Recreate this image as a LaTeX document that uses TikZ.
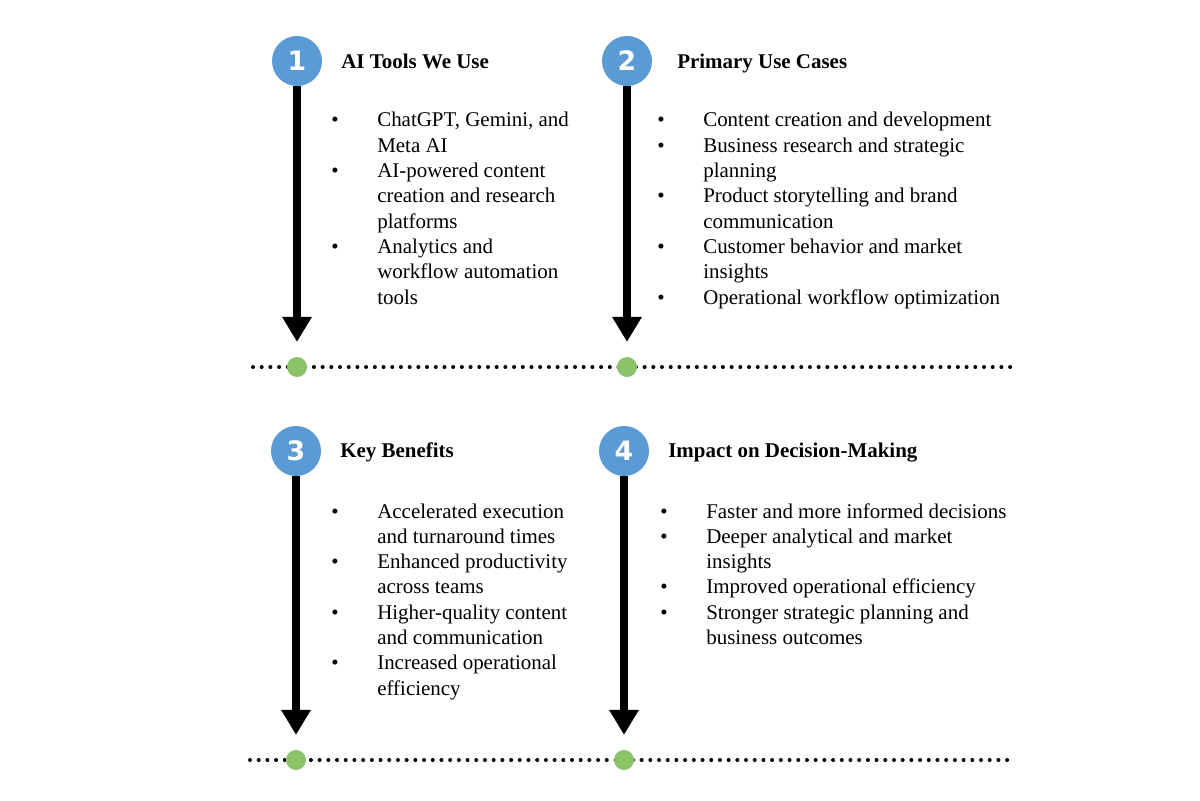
\documentclass[tikz,border=0pt]{standalone}
\usepackage{fontspec}
\setmainfont{Liberation Serif}
\newfontfamily\numfont{DejaVu Sans}
\usepackage{xcolor}
\usepackage{tikz}
\usetikzlibrary{arrows.meta,positioning}

\definecolor{numblue}{RGB}{91,155,213}
\definecolor{dotgreen}{RGB}{139,194,106}

\begin{document}
\begin{tikzpicture}[
  x=0.025cm, y=-0.025cm,
  num/.style={circle, fill=numblue, minimum size=1.25cm, inner sep=0pt,
              text=white, font=\numfont\bfseries\fontsize{19pt}{20pt}\selectfont},
  dot/.style={circle, fill=dotgreen, minimum size=0.5cm, inner sep=0pt},
  head/.style={anchor=base west, inner sep=0pt, font=\bfseries\fontsize{14.9pt}{18pt}\selectfont},
  body/.style={anchor=base west, inner sep=0pt, align=left, font=\fontsize{14.9pt}{18pt}\selectfont},
  arr/.style={-{Triangle[length=0.625cm, width=0.7cm]}, line width=0.1875cm, shorten >=0.37cm},
  dotline/.style={line width=0.1cm, line cap=round, dash pattern=on 0pt off 0.2175cm}
]
\useasboundingbox (0,0) rectangle (1200,800);
\newcommand{\bl}{\makebox[1.15cm][l]{\textbullet}}

% Numbered markers
\node[num] (c1) at (297,61)  {1};
\node[num] (c2) at (627,61)  {2};
\node[num] (c3) at (296,451) {3};
\node[num] (c4) at (624,451) {4};

% Headings
\node[head] (h1) at (341,69)  {AI Tools We Use};
\node[head] (h2) at (677,69)  {Primary Use Cases};
\node[head] (h3) at (340,457) {Key Benefits};
\node[head] (h4) at (668,457) {Impact on Decision-Making};

% Bullet lists
\node[body] (b1) at (331,127) {\begin{tabular}[t]{@{}l@{}l@{}}
  \bl & ChatGPT, Gemini, and\\ & Meta AI\\
  \bl & AI-powered content\\ & creation and research\\ & platforms\\
  \bl & Analytics and\\ & workflow automation\\ & tools
\end{tabular}};
\node[body] (b2) at (657,127) {\begin{tabular}[t]{@{}l@{}l@{}}
  \bl & Content creation and development\\
  \bl & Business research and strategic\\ & planning\\
  \bl & Product storytelling and brand\\ & communication\\
  \bl & Customer behavior and market\\ & insights\\
  \bl & Operational workflow optimization
\end{tabular}};
\node[body] (b3) at (331,518) {\begin{tabular}[t]{@{}l@{}l@{}}
  \bl & Accelerated execution\\ & and turnaround times\\
  \bl & Enhanced productivity\\ & across teams\\
  \bl & Higher-quality content\\ & and communication\\
  \bl & Increased operational\\ & efficiency
\end{tabular}};
\node[body] (b4) at (660,518) {\begin{tabular}[t]{@{}l@{}l@{}}
  \bl & Faster and more informed decisions\\
  \bl & Deeper analytical and market\\ & insights\\
  \bl & Improved operational efficiency\\
  \bl & Stronger strategic planning and\\ & business outcomes
\end{tabular}};

% Timelines
\coordinate (l1a) at (253,367);
\coordinate (l1b) at (1014,367);
\coordinate (l2a) at (250,760);
\coordinate (l2b) at (1011,760);
\draw[dotline] (l1a) -- (l1b);
\draw[dotline] (l2a) -- (l2b);

\node[dot] (d1) at (297,367) {};
\node[dot] (d2) at (627,367) {};
\node[dot] (d3) at (296,760) {};
\node[dot] (d4) at (624,760) {};

% Arrows
\foreach \i in {1,...,4} { \draw[arr] (c\i) -- (d\i); }
\end{tikzpicture}
\end{document}
